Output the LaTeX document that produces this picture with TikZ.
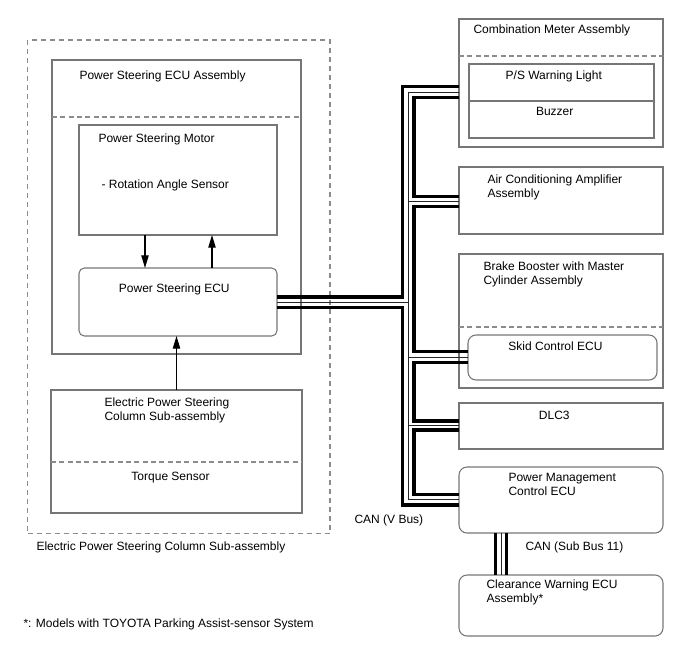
\documentclass[tikz,border=0pt]{standalone}
\usepackage{fontspec}
\setmainfont{Liberation Sans}
\usetikzlibrary{arrows.meta,positioning,fit,calc}
\definecolor{framegray}{RGB}{118,118,118}
\definecolor{dashgray}{RGB}{140,140,140}
\tikzset{
  every picture/.style={line width=0.8pt},
  unit/.style={draw=framegray, rectangle, inner sep=0pt, outer sep=0pt},
  ecu/.style={unit, rounded corners=6pt},
  grp/.style={draw=dashgray, dash pattern=on 3.75pt off 3pt, inner sep=0pt, outer sep=0pt},
  divline/.style={draw=dashgray, dash pattern=on 3.75pt off 2.5pt},
  lbl/.style={inner sep=0pt, align=left},
  bus/.style={line width=2.6pt, line cap=butt, line join=miter},
  wire/.style={line width=0.7pt, draw=black!85},
  sig/.style={line width=0.9pt, -{Triangle[length=9.5pt, width=5.5pt]}},
  every node/.style={font=\fontsize{9}{10.5}\selectfont}
}

\begin{document}
\begin{tikzpicture}[x=0.75pt, y=-0.75pt]
    \useasboundingbox (0,0) rectangle (688,658);

    \node [grp, fit={(27.7,40) (330,533.3)}] (eps) {};
    \node [unit, fit={(52,60) (301,354)}] (psasm) {};
    \node [unit, fit={(79,125) (277,235)}] (motor) {};
    \node [ecu, rounded corners=4pt, fit={(79,268) (277,336)}] (psecu) {};
    \node [unit, fit={(51,390) (302,513)}] (column) {};

    \node [unit, fit={(459,19) (663,147)}] (meter) {};
    \node [unit, fit={(469,64) (654,138)}] (warn) {};
    \node [unit, fit={(459,167) (663,234)}] (acamp) {};
    \node [unit, fit={(459,254) (663,388)}] (brake) {};
    \node [ecu, fit={(468,335) (657,380)}] (skid) {};
    \node [unit, fit={(459,403) (663,449)}] (dlc) {};
    \node [ecu, fit={(459,467) (663,533)}] (pmecu) {};
    \node [ecu, fit={(459,575) (663,636)}] (clear) {};

    \draw[divline] ([yshift=-42.75pt]psasm.north west) -- ([yshift=-42.75pt]psasm.north east);
    \draw[divline] ([yshift=-54pt]column.north west) -- ([yshift=-54pt]column.north east);
    \draw[divline] ([yshift=-27.75pt]meter.north west) -- ([yshift=-27.75pt]meter.north east);
    \draw[divline] ([yshift=-54.75pt]brake.north west) -- ([yshift=-54.75pt]brake.north east);
    \draw[framegray] ([yshift=-27.75pt]warn.north west) -- ([yshift=-27.75pt]warn.north east);

    \node [lbl, anchor=base west] (epsname) at (36,550.7) {Electric Power Steering Column Sub-assembly};
    \node [lbl, anchor=base west] (psasmname) at (79,79) {Power Steering ECU Assembly};
    \node [lbl, anchor=base west] (motorname) at (98,142.7) {Power Steering Motor};
    \node [lbl, anchor=base west] (rotname) at (101,188.7) {- Rotation Angle Sensor};
    \node [lbl, anchor=base] (psecuname) at (174.3,292.7) {Power Steering ECU};
    \node [lbl, anchor=base west] (columnname) at (104,420.7) {Electric Power Steering\\Column Sub-assembly};
    \node [lbl, anchor=base] (torquename) at (170.5,480.7) {Torque Sensor};
    \node [lbl, anchor=base west] (note) at (23,627.7) {*: Models with TOYOTA Parking Assist-sensor System};

    \node [lbl, anchor=base west] (metername) at (473,33.3) {Combination Meter Assembly};
    \node [lbl, anchor=base] (warnname) at (553.8,79) {P/S Warning Light};
    \node [lbl, anchor=base] (buzzname) at (554.7,115.7) {Buzzer};
    \node [lbl, anchor=base west] (acampname) at (487,197.3) {Air Conditioning Amplifier\\Assembly};
    \node [lbl, anchor=base west] (brakename) at (483,284) {Brake Booster with Master\\Cylinder Assembly};
    \node [lbl, anchor=base] (skidname) at (555.5,350) {Skid Control ECU};
    \node [lbl, anchor=base] (dlcname) at (554.3,419) {DLC3};
    \node [lbl, anchor=base west] (pmecuname) at (508,495.7) {Power Management\\Control ECU};
    \node [lbl, anchor=base west] (clearname) at (486,602) {Clearance Warning ECU\\Assembly*};
    \node [lbl, anchor=base west] (subbus) at (525,550) {CAN (Sub Bus 11)};
    \node [lbl, anchor=base west] (vbus) at (354,523.3) {CAN (V Bus)};

    \coordinate (a1) at (145,0);
    \coordinate (a2) at (212,0);
    \draw (motor.south -| a1) edge[sig] (psecu.north -| a1);
    \draw (psecu.north -| a2) edge[sig] (motor.south -| a2);
    \draw (column.north) edge[sig] (column.north |- psecu.south);

    \coordinate (o1) at (402.5,86.7);
    \coordinate (o2) at (402.5,297);
    \coordinate (o3) at (402.5,307.7);
    \coordinate (o4) at (402.5,505);
    \coordinate (i1) at (414,97.7);
    \coordinate (i2) at (414,196.7);
    \coordinate (i3) at (414,206.7);
    \coordinate (i4) at (414,351.3);
    \coordinate (i5) at (414,362.7);
    \coordinate (i6) at (414,421);
    \coordinate (i7) at (414,430);
    \coordinate (i8) at (414,494.3);
    \coordinate (m1) at (408.2,92.7);
    \coordinate (m2) at (408.2,499.5);
    \coordinate (m3) at (408.2,201.7);
    \coordinate (m4) at (408.2,302.3);
    \coordinate (m5) at (408.2,357);
    \coordinate (m6) at (408.2,425.5);

    \draw[bus] (meter.west |- o1) -- (o1) -- (o2) -- (psecu.east |- o2);
    \draw[bus] (psecu.east |- o3) -- (o3) -- (o4) -- (pmecu.west |- o4);
    \draw[bus] (meter.west |- i1) -- (i1) -- (i2) -- (acamp.west |- i2);
    \draw[bus] (acamp.west |- i3) -- (i3) -- (i4) -- (skid.west |- i4);
    \draw[bus] (skid.west |- i5) -- (i5) -- (i6) -- (dlc.west |- i6);
    \draw[bus] (dlc.west |- i7) -- (i7) -- (i8) -- (pmecu.west |- i8);

    \draw[wire] (meter.west |- m1) -- (m1) -- (m2) -- (pmecu.west |- m2);
    \draw[wire] (m3) -- (acamp.west |- m3);
    \draw[wire] (m4) -- (psecu.east |- m4);
    \draw[wire] (m5) -- (skid.west |- m5);
    \draw[wire] (m6) -- (dlc.west |- m6);

    \coordinate (s1) at (495.7,0);
    \coordinate (s2) at (501.2,0);
    \coordinate (s3) at (506.7,0);
    \draw[bus] (pmecu.south -| s1) -- (clear.north -| s1);
    \draw[bus] (pmecu.south -| s3) -- (clear.north -| s3);
    \draw[wire] (pmecu.south -| s2) -- (clear.north -| s2);
\end{tikzpicture}
\end{document}
